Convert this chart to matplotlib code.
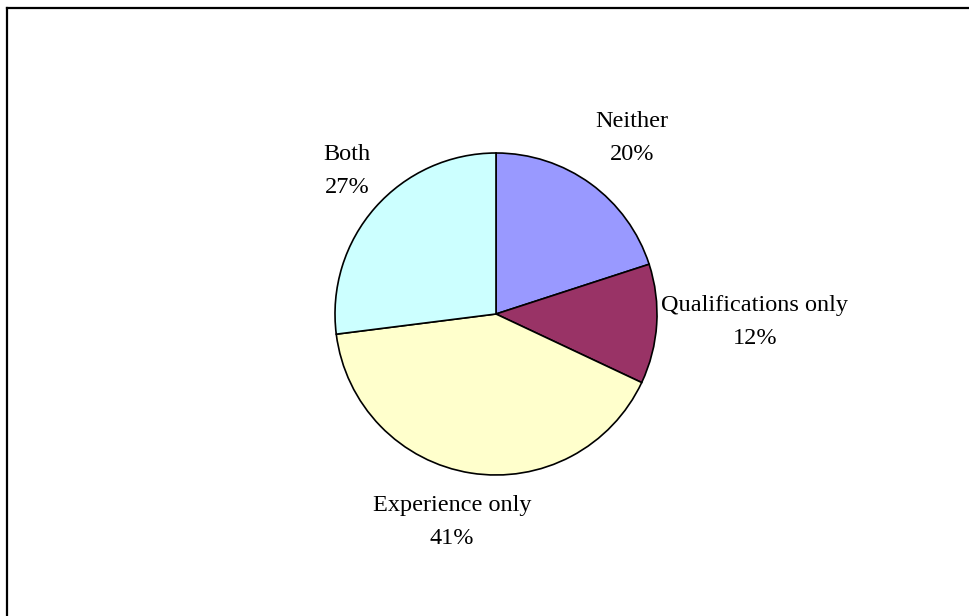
import matplotlib.pyplot as plt
from matplotlib.lines import Line2D

# share of respondents by what they had
categories = ['Neither', 'Qualifications only', 'Experience only', 'Both']
shares = [20, 12, 41, 27]
colours = ['#9999FF', '#993366', '#FFFFCC', '#CCFFFF']

# label anchors (pixel space, y measured from the top)
label_pos = [(632, 138), (755, 322), (452, 522), (347, 171)]

W, H = 970, 616
fig = plt.figure(figsize=(W / 100, H / 100), dpi=100)
ax = fig.add_axes([0, 0, 1, 1])

ax.pie(shares, colors=colours, startangle=90, counterclock=False,
       center=(496, H - 314), radius=161, frame=True,
       wedgeprops={'edgecolor': 'black', 'linewidth': 1.2})
ax.set_xlim(0, W)
ax.set_ylim(0, H)
ax.set_aspect('equal')
ax.axis('off')

for name, val, (x, y) in zip(categories, shares, label_pos):
    ax.text(x, H - y, f'{name}\n{val}%', ha='center', va='center',
            family='Liberation Serif', fontsize=17.5, linespacing=1.7)

# chart border: only top and left edges fall inside the image
fig.add_artist(Line2D([7.5 / W, 7.5 / W], [0, 1 - 7.5 / H], transform=fig.transFigure,
                      color='black', linewidth=1.6))
fig.add_artist(Line2D([7.5 / W, 1], [1 - 7.5 / H, 1 - 7.5 / H], transform=fig.transFigure,
                      color='black', linewidth=1.6))

fig.savefig('out.png', dpi=100)
